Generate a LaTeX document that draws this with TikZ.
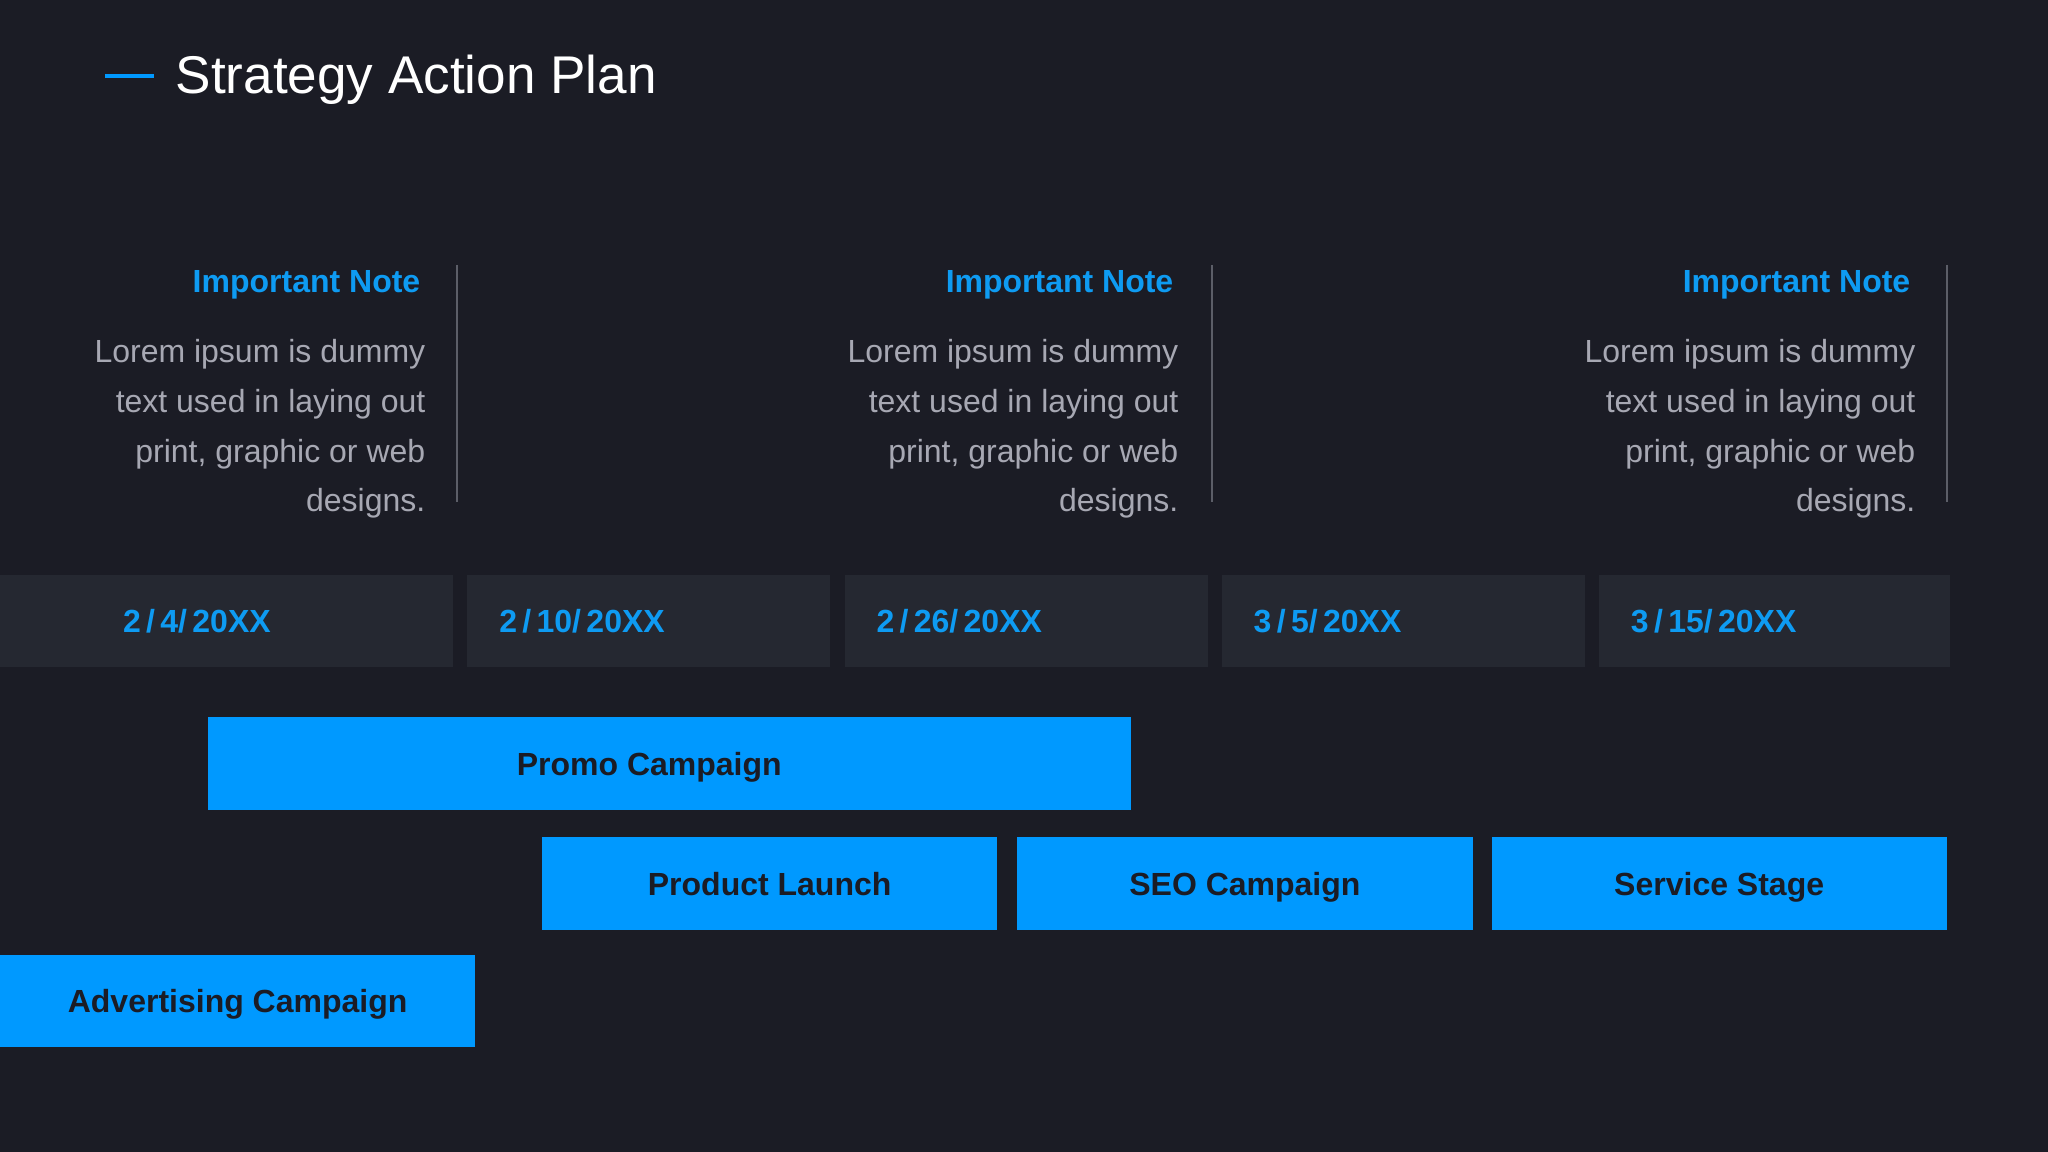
\documentclass[tikz,border=0pt]{standalone}
\usepackage{fontspec}
\setmainfont{Liberation Sans}
\usepackage{tikz}
\usetikzlibrary{positioning}

\definecolor{bgdark}{HTML}{1B1C25}
\definecolor{bardark}{HTML}{252831}
\definecolor{planblue}{HTML}{0099FF}
\definecolor{noteblue}{HTML}{0E9BF2}
\definecolor{notegray}{HTML}{A7A8B3}
\definecolor{rulegray}{HTML}{5C5E68}

\begin{document}
\begin{tikzpicture}[x=0.01cm,y=-0.01cm,
    node distance=0.14cm,
    notehead/.style={anchor=base east, inner sep=0pt, text=noteblue,
        font=\fontsize{9.1}{11}\selectfont\bfseries},
    notebody/.style={anchor=north east, inner sep=0pt, align=right, text=notegray,
        font=\fontsize{9.1}{14.1}\selectfont},
    noterule/.style={draw=rulegray, line width=0.015cm},
    datebar/.style={fill=bardark, outer sep=0pt, minimum height=0.92cm, inner xsep=0.32cm,
        text width=2.99cm, align=left, text=noteblue,
        font=\fontsize{9.1}{11}\selectfont\bfseries},
    task/.style={fill=planblue, outer sep=0pt, minimum height=0.93cm, text=bgdark,
        text height=0.23cm, text depth=0pt,
        font=\fontsize{9.1}{11}\selectfont\bfseries}
]

\fill[bgdark] (0,0) rectangle (2048,1152);
\useasboundingbox (0,0) rectangle (2048,1152);

\node[anchor=base west,
    inner sep=0pt,
    text=white,
    font=\fontsize{15.1}{18}\selectfont
] (title) at (175,94) {Strategy Action Plan};

\draw[planblue, line width=0.04cm] (105,76) -- (154,76);

\node[notehead] (head1) at (421,293) {Important Note};
\node[notebody] (body1) at (426,339) {Lorem ipsum is dummy\\text used in laying out\\print, graphic or web\\designs.};
\draw[noterule] (457,265) -- (457,502);

\node[notehead] (head2) at (1174,293) {Important Note};
\node[notebody] (body2) at (1179,339) {Lorem ipsum is dummy\\text used in laying out\\print, graphic or web\\designs.};
\draw[noterule] (1212,265) -- (1212,502);

\node[notehead] (head3) at (1911,293) {Important Note};
\node[notebody] (body3) at (1916,339) {Lorem ipsum is dummy\\text used in laying out\\print, graphic or web\\designs.};
\draw[noterule] (1947,265) -- (1947,502);

\node[datebar,
    anchor=north west,
    inner xsep=1.23cm,
    text width=2.07cm
] (date1) at (0,575) {2\,/\,4/\,20XX};

\node[datebar,
    right=of date1
] (date2) {2\,/\,10/\,20XX};

\node[datebar,
    right=of date2
] (date3) {2\,/\,26/\,20XX};

\node[datebar,
    right=of date3
] (date4) {3\,/\,5/\,20XX};

\node[datebar,
    right=of date4,
    text width=2.87cm
] (date5) {3\,/\,15/\,20XX};

\node[task,
    anchor=north west,
    minimum width=9.22cm
] (promo) at (208,717) {Promo Campaign\hspace*{0.4cm}};

\node[task,
    anchor=north west,
    minimum width=4.55cm
] (launch) at (542,837) {Product Launch};

\node[task,
    right=0.2cm of launch,
    minimum width=4.55cm
] (seo) {SEO Campaign};

\node[task,
    right=0.19cm of seo,
    minimum width=4.55cm
] (service) {Service Stage};

\node[task,
    anchor=north west,
    minimum width=4.75cm,
    minimum height=0.92cm
] (advert) at (0,955) {Advertising Campaign};

\end{tikzpicture}
\end{document}
